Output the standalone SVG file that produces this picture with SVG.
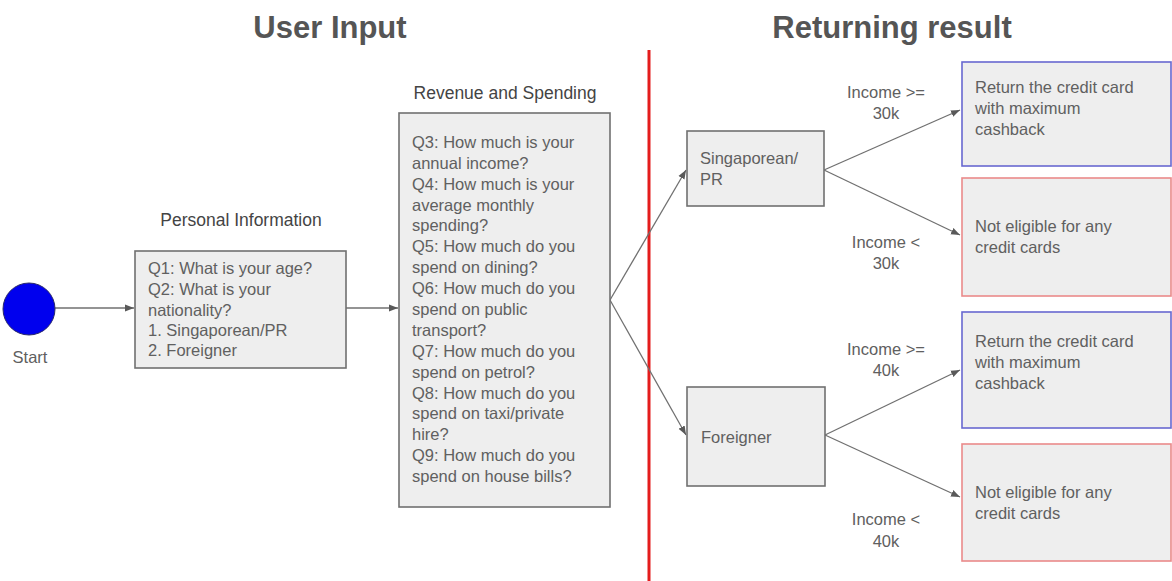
<svg xmlns="http://www.w3.org/2000/svg" width="1172" height="581" viewBox="0 0 1172 581">
  <defs>
    <marker id="arr" markerUnits="userSpaceOnUse" markerWidth="10" markerHeight="8" refX="9" refY="4" orient="auto">
      <path d="M0,0.5 L9,4 L0,7.5 Z" fill="#595959"/>
    </marker>
    <style>
      .t { font-family: "Liberation Sans", Arial, sans-serif; font-size: 16.5px; fill: #606060; }
      .h { font-family: "Liberation Sans", Arial, sans-serif; font-size: 31px; font-weight: bold; fill: #555; }
      .lbl { font-family: "Liberation Sans", Arial, sans-serif; font-size: 17.5px; fill: #444; }
      .box { fill: #eeeeee; stroke: #707070; stroke-width: 1.6; }
      .blue { fill: #eeeeee; stroke: #6868d0; stroke-width: 1.6; }
      .red { fill: #eeeeee; stroke: #ea8a8a; stroke-width: 1.6; }
      .c { fill: none; stroke: #707070; stroke-width: 1.3; marker-end: url(#arr); }
    </style>
  </defs>
  <rect width="1172" height="581" fill="#ffffff"/>

  <g id="titles">
    <text class="h" x="330" y="38" text-anchor="middle">User Input</text>
    <text class="h" x="892" y="38" text-anchor="middle">Returning result</text>
  </g>

  <g id="divider">
    <line x1="649" y1="50" x2="649" y2="581" stroke="#e41c1c" stroke-width="3"/>
  </g>

  <g id="connectors">
    <line class="c" x1="55" y1="308" x2="134" y2="308"/>
    <line class="c" x1="346" y1="308" x2="398" y2="308"/>
    <line class="c" x1="610" y1="300" x2="686" y2="170"/>
    <line class="c" x1="610" y1="300" x2="686" y2="435"/>
    <line class="c" x1="824" y1="170" x2="960" y2="110"/>
    <line class="c" x1="824" y1="170" x2="960" y2="235"/>
    <line class="c" x1="825" y1="435" x2="960" y2="370"/>
    <line class="c" x1="825" y1="435" x2="960" y2="497"/>
  </g>

  <g id="start">
    <circle cx="29" cy="309" r="26" fill="#0000ee" stroke="#2a2a6a" stroke-width="1"/>
    <text class="t" x="30" y="363" text-anchor="middle">Start</text>
  </g>

  <g id="personal">
    <text class="lbl" x="241" y="226" text-anchor="middle">Personal Information</text>
    <rect class="box" x="135" y="251" width="211" height="117"/>
    <text class="t" x="148" y="274">Q1: What is your age?</text>
    <text class="t" x="148" y="295">Q2: What is your</text>
    <text class="t" x="148" y="316">nationality?</text>
    <text class="t" x="148" y="336">1. Singaporean/PR</text>
    <text class="t" x="148" y="356">2. Foreigner</text>
  </g>

  <g id="revenue">
    <text class="lbl" x="505" y="99" text-anchor="middle">Revenue and Spending</text>
    <rect class="box" x="399" y="113" width="211" height="394"/>
    <text class="t" x="412" y="148">Q3: How much is your</text>
    <text class="t" x="412" y="169">annual income?</text>
    <text class="t" x="412" y="190">Q4: How much is your</text>
    <text class="t" x="412" y="211">average monthly</text>
    <text class="t" x="412" y="231">spending?</text>
    <text class="t" x="412" y="252">Q5: How much do you</text>
    <text class="t" x="412" y="273">spend on dining?</text>
    <text class="t" x="412" y="294">Q6: How much do you</text>
    <text class="t" x="412" y="315">spend on public</text>
    <text class="t" x="412" y="336">transport?</text>
    <text class="t" x="412" y="357">Q7: How much do you</text>
    <text class="t" x="412" y="378">spend on petrol?</text>
    <text class="t" x="412" y="399">Q8: How much do you</text>
    <text class="t" x="412" y="419">spend on taxi/private</text>
    <text class="t" x="412" y="440">hire?</text>
    <text class="t" x="412" y="461">Q9: How much do you</text>
    <text class="t" x="412" y="482">spend on house bills?</text>
  </g>

  <g id="singaporean">
    <rect class="box" x="687" y="131" width="137" height="75"/>
    <text class="t" x="700" y="164">Singaporean/</text>
    <text class="t" x="700" y="185">PR</text>
  </g>

  <g id="foreigner">
    <rect class="box" x="687" y="387" width="138" height="99"/>
    <text class="t" x="701" y="443">Foreigner</text>
  </g>

  <g id="labels">
    <text class="t" x="886" y="98" text-anchor="middle">Income &gt;=</text>
    <text class="t" x="886" y="119" text-anchor="middle">30k</text>
    <text class="t" x="886" y="248" text-anchor="middle">Income &lt;</text>
    <text class="t" x="886" y="269" text-anchor="middle">30k</text>
    <text class="t" x="886" y="355" text-anchor="middle">Income &gt;=</text>
    <text class="t" x="886" y="376" text-anchor="middle">40k</text>
    <text class="t" x="886" y="525" text-anchor="middle">Income &lt;</text>
    <text class="t" x="886" y="547" text-anchor="middle">40k</text>
  </g>

  <g id="sg-eligible">
    <rect class="blue" x="962" y="62" width="209" height="104"/>
    <text class="t" x="975" y="93">Return the credit card</text>
    <text class="t" x="975" y="114">with maximum</text>
    <text class="t" x="975" y="135">cashback</text>
  </g>

  <g id="sg-not-eligible">
    <rect class="red" x="962" y="178" width="209" height="118"/>
    <text class="t" x="975" y="232">Not eligible for any</text>
    <text class="t" x="975" y="253">credit cards</text>
  </g>

  <g id="fr-eligible">
    <rect class="blue" x="962" y="312" width="209" height="116"/>
    <text class="t" x="975" y="347">Return the credit card</text>
    <text class="t" x="975" y="368">with maximum</text>
    <text class="t" x="975" y="389">cashback</text>
  </g>

  <g id="fr-not-eligible">
    <rect class="red" x="962" y="444" width="209" height="117"/>
    <text class="t" x="975" y="498">Not eligible for any</text>
    <text class="t" x="975" y="519">credit cards</text>
  </g>
</svg>
